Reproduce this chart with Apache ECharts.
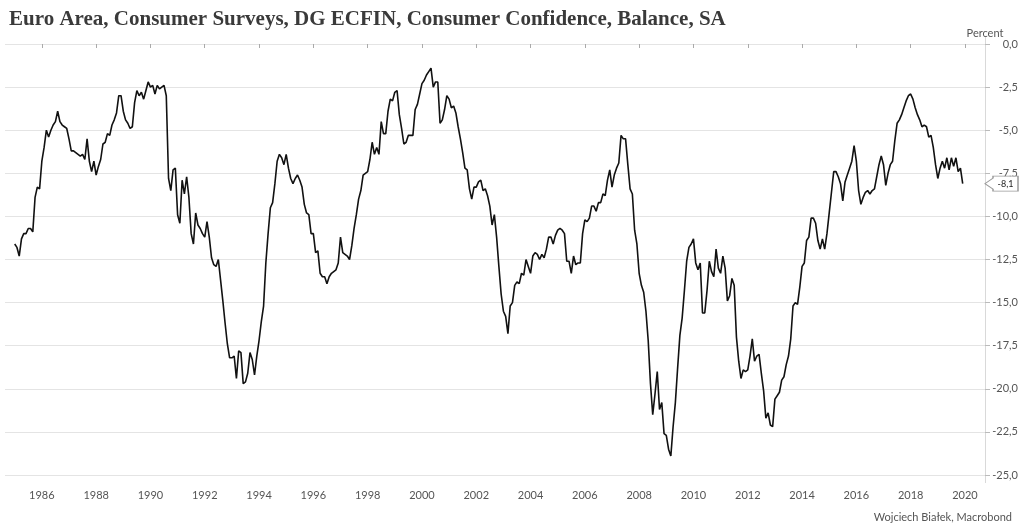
<!DOCTYPE html>
<html>
<head>
<meta charset="utf-8">
<script src="https://cdn.jsdelivr.net/npm/echarts@6/dist/echarts.min.js"></script>
<style>
html,body{margin:0;padding:0;background:#fff;}
#chart{width:1024px;height:532px;}
</style>
</head>
<body>
<div id="chart"></div>
<script>
// Monthly values, Jan..Dec of each year (Percent balance, SA)
const v1985 = [-11.6, -11.8, -12.3, -11.3, -11.0, -11.0, -10.7, -10.7, -10.9, -8.9, -8.3, -8.4];
const v1986 = [-6.8, -6.0, -5.0, -5.4, -5.0, -4.7, -4.5, -3.9, -4.5, -4.7, -4.8, -4.9];
const v1987 = [-5.5, -6.2, -6.2, -6.3, -6.4, -6.5, -6.4, -6.7, -5.5, -6.8, -7.4, -6.8];
const v1988 = [-7.6, -7.1, -6.7, -5.8, -5.7, -5.2, -5.3, -4.7, -4.4, -4.0, -3.0, -3.0];
const v1989 = [-3.9, -4.4, -4.6, -4.9, -4.8, -3.4, -2.7, -3.0, -2.8, -3.2, -2.7, -2.2];
const v1990 = [-2.5, -2.4, -2.9, -2.4, -2.6, -2.5, -2.4, -3.0, -7.8, -8.5, -7.3, -7.2];
const v1991 = [-9.9, -10.4, -7.9, -8.7, -7.7, -8.9, -11.0, -11.6, -9.8, -10.5, -10.7, -11.0];
const v1992 = [-11.2, -10.3, -11.2, -12.4, -12.8, -12.9, -12.5, -13.7, -14.9, -16.2, -17.4, -18.2];
const v1993 = [-18.2, -18.1, -19.4, -17.8, -17.9, -19.7, -19.6, -19.1, -17.9, -18.3, -19.2, -18.1];
const v1994 = [-17.2, -16.1, -15.2, -12.7, -11.0, -9.5, -9.2, -8.1, -6.8, -6.4, -6.6, -7.0];
const v1995 = [-6.4, -7.2, -7.8, -8.1, -7.8, -7.6, -7.9, -8.3, -9.3, -9.8, -9.9, -11.0];
const v1996 = [-11.0, -12.1, -12.0, -13.3, -13.5, -13.5, -13.9, -13.5, -13.3, -13.2, -13.1, -12.7];
const v1997 = [-11.2, -12.1, -12.2, -12.3, -12.5, -11.7, -10.7, -9.9, -9.0, -8.5, -7.6, -7.5];
const v1998 = [-7.4, -6.7, -5.7, -6.4, -6.0, -6.4, -4.5, -5.2, -5.2, -3.9, -3.2, -3.3];
const v1999 = [-2.8, -2.7, -4.1, -4.9, -5.8, -5.7, -5.3, -5.3, -5.3, -3.8, -3.5, -2.9];
const v2000 = [-2.3, -2.1, -1.8, -1.6, -1.4, -2.5, -2.2, -2.2, -4.6, -4.4, -3.8, -3.0];
const v2001 = [-3.2, -3.7, -3.6, -4.0, -4.8, -5.5, -6.3, -7.2, -7.3, -8.4, -9.0, -8.3];
const v2002 = [-8.3, -8.0, -7.9, -8.5, -8.4, -8.8, -9.4, -10.5, -9.9, -11.2, -12.9, -14.5];
const v2003 = [-15.5, -15.8, -16.8, -15.2, -15.0, -14.0, -13.8, -13.9, -13.3, -13.4, -12.5, -12.9];
const v2004 = [-13.3, -12.3, -12.1, -12.2, -12.5, -12.2, -12.4, -11.9, -11.2, -11.2, -11.6, -11.1];
const v2005 = [-10.8, -10.7, -10.8, -11.0, -12.6, -12.6, -13.3, -12.3, -12.8, -12.7, -12.7, -11.0];
const v2006 = [-10.2, -10.3, -10.1, -9.4, -9.4, -9.7, -9.2, -9.2, -8.7, -8.8, -7.9, -7.3];
const v2007 = [-8.3, -7.6, -7.2, -6.9, -5.3, -5.5, -5.5, -7.0, -8.4, -8.7, -10.8, -11.6];
const v2008 = [-13.3, -14.0, -14.4, -15.5, -17.2, -19.7, -21.5, -20.3, -19.0, -21.2, -20.8, -22.6];
const v2009 = [-22.7, -23.5, -23.9, -22.2, -20.8, -18.8, -16.9, -15.9, -14.3, -12.6, -11.8, -11.6];
const v2010 = [-11.3, -12.7, -13.1, -12.7, -15.6, -15.6, -14.3, -12.6, -13.2, -13.5, -11.9, -13.0];
const v2011 = [-13.3, -12.3, -13.0, -14.9, -14.6, -13.6, -14.0, -17.0, -18.4, -19.4, -18.9, -19.0];
const v2012 = [-18.9, -18.1, -17.1, -18.4, -18.1, -18.0, -19.1, -20.1, -21.7, -21.4, -22.1, -22.2];
const v2013 = [-20.6, -20.4, -20.2, -19.5, -19.3, -18.6, -18.1, -17.1, -15.2, -15.0, -15.1, -14.1];
const v2014 = [-12.9, -12.7, -11.4, -11.2, -10.1, -10.1, -10.4, -11.4, -11.9, -11.3, -11.9, -11.0];
const v2015 = [-9.8, -8.6, -7.4, -7.4, -7.7, -8.1, -9.1, -8.0, -7.6, -7.2, -6.8, -5.9];
const v2016 = [-6.8, -8.5, -9.3, -8.9, -8.6, -8.5, -8.7, -8.5, -8.4, -7.7, -7.0, -6.5];
const v2017 = [-7.0, -8.2, -7.5, -7.0, -6.8, -5.6, -4.6, -4.4, -4.1, -3.7, -3.3, -3.0];
const v2018 = [-2.9, -3.2, -3.7, -4.1, -4.4, -4.8, -4.7, -4.8, -5.4, -5.3, -6.0, -7.0];
const v2019 = [-7.8, -7.2, -6.8, -7.2, -6.6, -7.3, -6.6, -7.1, -6.6, -7.4, -7.2, -8.1];

const startYear = 1985;
const yearly = [v1985, v1986, v1987, v1988, v1989, v1990, v1991, v1992, v1993, v1994,
  v1995, v1996, v1997, v1998, v1999, v2000, v2001, v2002, v2003, v2004,
  v2005, v2006, v2007, v2008, v2009, v2010, v2011, v2012, v2013, v2014,
  v2015, v2016, v2017, v2018, v2019];

const xTickLabels = [1986, 1988, 1990, 1992, 1994, 1996, 1998, 2000, 2002, 2004, 2006, 2008, 2010, 2012, 2014, 2016, 2018, 2020];
const titleText = 'Euro Area, Consumer Surveys, DG ECFIN, Consumer Confidence, Balance, SA';
const unitText = 'Percent';
const creditText = 'Wojciech Białek, Macrobond';

const data = [];
yearly.forEach((arr, yi) => {
  arr.forEach((v, mi) => data.push([startYear + yi + mi / 12, v]));
});
const last = data[data.length - 1];

const xMin = 1984.643, xMax = 2020.738;
const fmt = v => v.toFixed(1).replace('.', ',');

const chart = echarts.init(document.getElementById('chart'), null, {renderer: 'canvas'});
chart.setOption({
  animation: false,
  backgroundColor: '#ffffff',
  title: [
    {text: titleText, left: 4, top: 4,
     textStyle: {fontFamily: 'Liberation Serif', fontWeight: 'bold', fontSize: 21, color: '#3a3a3a'}},
    {text: creditText, right: 7, bottom: 4,
     textStyle: {fontFamily: 'Lato', fontWeight: 'normal', fontSize: 11, color: '#555'}}
  ],
  grid: {left: 5, right: 39, top: 44, bottom: 57, containLabel: false},
  xAxis: {
    type: 'value', min: xMin, max: xMax, offset: 8,
    axisLine: {show: false},
    splitLine: {show: false},
    axisTick: {show: true, length: 4, customValues: xTickLabels, lineStyle: {color: '#aaa'}},
    axisLabel: {customValues: xTickLabels, formatter: v => String(Math.round(v)),
      fontFamily: 'Lato', fontSize: 11, color: '#555', margin: 7}
  },
  yAxis: {
    type: 'value', position: 'right', min: -25, max: 0, interval: 2.5,
    name: unitText, nameLocation: 'end', nameGap: 2,
    nameTextStyle: {fontFamily: 'Lato', fontSize: 11, color: '#555', align: 'center'},
    axisLine: {show: true, lineStyle: {color: '#d9d9d9'}},
    axisTick: {show: true, length: 5, lineStyle: {color: '#bbb'}},
    splitLine: {show: true, lineStyle: {color: '#e4e4e4', width: 1}},
    axisLabel: {formatter: fmt, fontFamily: 'Lato', fontSize: 11, color: '#555', align: 'right', margin: 33}
  },
  graphic: [
    {type: 'line', shape: {x1: 985.5, y1: 36, x2: 985.5, y2: 483}, style: {stroke: '#d9d9d9', lineWidth: 1}, z: 0}
  ],
  series: [{
    type: 'line', data: data, showSymbol: false, symbol: 'none',
    lineStyle: {color: '#111', width: 1.6}, clip: false,
    markPoint: {
      symbol: 'path://M0,7.5 L8,2 L8,0 L33,0 L33,15 L8,15 L8,13 Z',
      symbolSize: [33, 15], symbolKeepAspect: false,
      symbolOffset: ['50%', 0],
      itemStyle: {color: '#fff', borderColor: '#999', borderWidth: 1},
      label: {show: true, formatter: p => fmt(p.value), color: '#222', fontSize: 9, fontFamily: 'Lato', offset: [4, 0]},
      data: [{coord: [xMax, last[1]], value: last[1]}]
    }
  }]
});
</script>
</body>
</html>
